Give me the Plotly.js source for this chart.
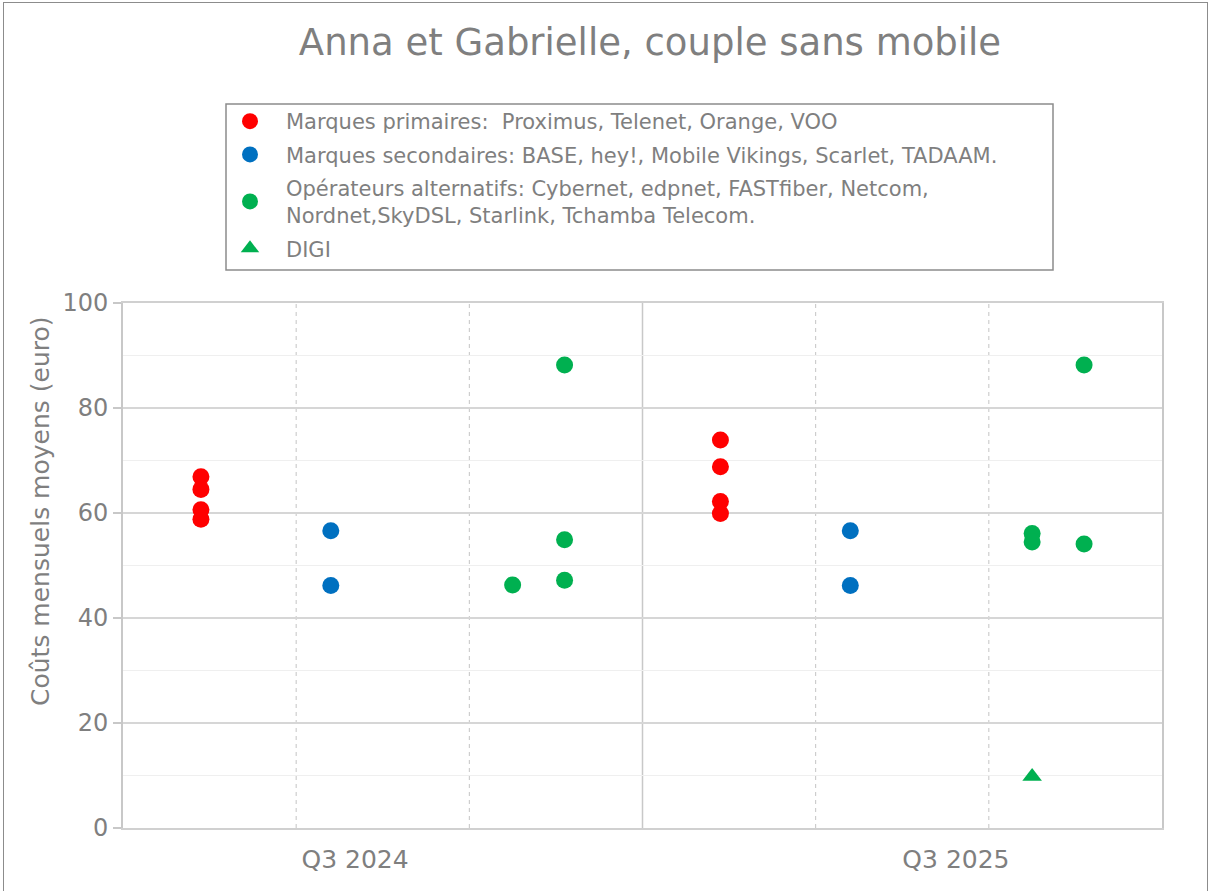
<!DOCTYPE html>
<html>
<head>
<meta charset="utf-8">
<script src="https://cdn.plot.ly/plotly-3.0.1.min.js"></script>
<style>
  html, body { margin: 0; padding: 0; background: #fff; }
  #wrap { position: relative; width: 1212px; height: 891px; overflow: hidden; }
  #chart { position: absolute; left: 0; top: 0; width: 1212px; height: 891px; }
  #frame { position: absolute; left: 3px; top: 2px; width: 1205px; height: 900px;
           border: 1px solid #8c8c8c; pointer-events: none; box-sizing: border-box; }
</style>
</head>
<body>
<div id="wrap"><div id="chart"></div><div id="frame"></div></div>
<script>
// ---- data ----
const seriesNames = [
  'Marques primaires:  Proximus, Telenet, Orange, VOO',
  'Marques secondaires: BASE, hey!, Mobile Vikings, Scarlet, TADAAM.',
  'Opérateurs alternatifs: Cybernet, edpnet, FASTfiber, Netcom,<br>Nordnet,SkyDSL, Starlink, Tchamba Telecom.',
  'DIGI'
];
const xPrimaires = [0.45, 0.45, 0.45, 0.45, 3.45, 3.45, 3.45, 3.45];
const yPrimaires = [66.9, 64.5, 60.6, 58.8, 73.9, 68.8, 62.2, 59.9];
const xSecondaires = [1.2, 1.2, 4.2, 4.2];
const ySecondaires = [56.6, 46.2, 56.6, 46.2];
const xAlternatifs = [2.25, 2.55, 2.55, 2.55, 5.25, 5.25, 5.55, 5.55];
const yAlternatifs = [46.3, 88.2, 54.9, 47.2, 56.1, 54.5, 88.2, 54.1];
const xDigi = [5.25];
const yDigi = [9.8];
const categoryLabels = ['Q3 2024', 'Q3 2025'];
const categoryPositions = [1.34, 4.81];
const separatorsDashed = [1, 2, 4, 5];
const separatorsSolid = [3];
const yAxisTitle = 'Coûts mensuels moyens (euro)';
const chartTitle = 'Anna et Gabrielle, couple sans mobile';

// ---- styles ----
const RED = '#FF0000', BLUE = '#0070C0', GREEN = '#00B050';
const TXT = '#7f7f7f';
const FONT = 'DejaVu Sans, Verdana, sans-serif';

function mk(name, xs, ys, color, symbol, group) {
  return {
    type: 'scatter', mode: 'markers', name: name, x: xs, y: ys,
    legendgroup: group,
    marker: { color: color, size: 17, symbol: symbol, line: { width: 0 } },
    hoverinfo: 'x+y'
  };
}

const traces = [
  mk(seriesNames[0], xPrimaires, yPrimaires, RED, 'circle', 'g1'),
  mk(seriesNames[1], xSecondaires, ySecondaires, BLUE, 'circle', 'g2'),
  mk(seriesNames[2], xAlternatifs, yAlternatifs, GREEN, 'circle', 'g3'),
  mk(seriesNames[3], xDigi, yDigi, GREEN, 'triangle-up', 'g4')
];

const shapes = [];
separatorsDashed.forEach(v => shapes.push({
  type: 'line', xref: 'x', yref: 'paper', x0: v, x1: v, y0: 0, y1: 1, layer: 'below',
  line: { color: '#c4c4c4', width: 1, dash: '4px,4px' }
}));
separatorsSolid.forEach(v => shapes.push({
  type: 'line', xref: 'x', yref: 'paper', x0: v, x1: v, y0: 0, y1: 1, layer: 'below',
  line: { color: '#c8c8c8', width: 1.5 }
}));
// legend box
const L = 123, R = 1162, T = 303, B = 828;
const px = v => (v - L) / (R - L);
const py = v => (B - v) / (B - T);
shapes.push({
  type: 'rect', xref: 'paper', yref: 'paper',
  x0: px(226), x1: px(1053), y0: py(270), y1: py(104),
  line: { color: '#8c8c8c', width: 1.5 }, fillcolor: 'rgba(0,0,0,0)'
});

const layout = {
  width: 1212, height: 891,
  margin: { l: L, r: 1212 - R, t: T, b: 891 - B, pad: 0 },
  paper_bgcolor: '#fff', plot_bgcolor: '#fff',
  font: { family: FONT, color: TXT },
  title: {
    text: chartTitle,
    font: { family: FONT, size: 37, color: TXT },
    xref: 'container', x: 650 / 1212, xanchor: 'center',
    yref: 'container', y: 1 - 42 / 891, yanchor: 'middle'
  },
  showlegend: true,
  legend: {
    x: px(214), y: py(101), xanchor: 'left', yanchor: 'top',
    xref: 'paper', yref: 'paper',
    bgcolor: 'rgba(0,0,0,0)', borderwidth: 0,
    font: { family: FONT, size: 21, color: TXT },
    traceorder: 'grouped', tracegroupgap: 3,
    itemwidth: 62
  },
  xaxis: {
    range: [0, 6], fixedrange: true,
    tickmode: 'array', tickvals: categoryPositions, ticktext: categoryLabels,
    ticks: '', showgrid: false, zeroline: false,
    showline: true, linecolor: '#d0d0d0', linewidth: 2, mirror: true,
    tickfont: { family: FONT, size: 25, color: TXT },
    ticklabelstandoff: 8
  },
  yaxis: {
    range: [0, 100], fixedrange: true,
    tickmode: 'linear', tick0: 0, dtick: 20,
    ticks: 'outside', ticklen: 8, tickcolor: '#c8c8c8', tickwidth: 1.5,
    showgrid: true, gridcolor: '#d6d6d6', gridwidth: 1.5,
    minor: { dtick: 10, tick0: 0, showgrid: true, gridcolor: '#efefef', gridwidth: 1.5, ticks: '' },
    zeroline: false,
    showline: true, linecolor: '#c8c8c8', linewidth: 2, mirror: true,
    tickfont: { family: FONT, size: 24, color: TXT },
    ticklabelstandoff: 0
  },
  annotations: [{
    text: yAxisTitle, textangle: -90,
    xref: 'paper', yref: 'paper', x: px(40), y: py(511),
    xanchor: 'center', yanchor: 'middle', showarrow: false,
    font: { family: FONT, size: 25, color: TXT }
  }],
  shapes: shapes
};

Plotly.newPlot('chart', traces, layout, { displayModeBar: false, staticPlot: true });
</script>
</body>
</html>
